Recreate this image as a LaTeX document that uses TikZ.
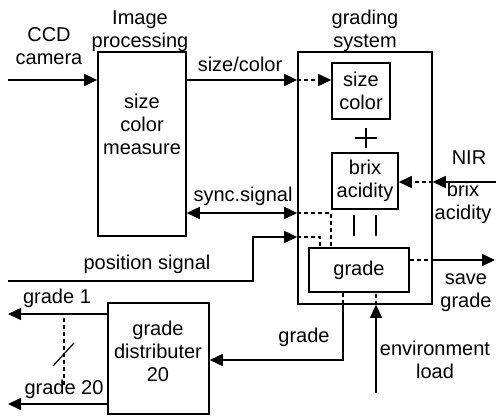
\documentclass[tikz,border=0pt]{standalone}
\usepackage{fontspec}
\setmainfont{Liberation Sans}
\usetikzlibrary{arrows.meta}
\begin{document}
\begin{tikzpicture}[x=1pt,y=-1pt,line width=1.6pt,font=\fontsize{20}{23}\selectfont]
      \tikzset{box/.style={draw, minimum width=#1, inner sep=0pt, align=center},
               txt/.style={inner sep=0pt, align=center},
               arr/.style={-{Triangle[length=13pt,width=12pt]}},
               biarr/.style={{Triangle[length=13pt,width=12pt]}-{Triangle[length=13pt,width=12pt]}},
               dashline/.style={dash pattern=on 4pt off 3pt},
               darr/.style={dashline, -{Triangle[length=13pt,width=12pt]}}}
      \useasboundingbox (0,0) rectangle (496,416);
      \node[box=88pt, minimum height=184pt] (imgbox) at (142,144) {};
      \node[txt] (imgtext) at (142,124) {size\\color\\measure};
      \node[box=134pt, minimum height=252pt] (gradsys) at (365,178) {};
      \node[box=58pt, minimum height=56pt] (sizebox) at (361,91) {size\\color};
      \node[box=66pt, minimum height=56pt] (brixbox) at (365,181) {brix\\acidity};
      \node[box=100pt, minimum height=44pt] (gradebox) at (359,270) {grade};
      \node[box=101pt, minimum height=111pt] (distbox) at (158.5,358.5) {};
      \node[txt] (disttext) at (158,351) {grade\\distributer\\20};
      \node[txt] (ccdlbl) at (49,46) {CCD\\camera};
      \node[txt] (imglbl) at (140,31) {Image\\processing};
      \node[txt] (gradlbl) at (365,31) {grading\\system};
      \node[txt] (sclbl) at (240,64) {size/color};
      \node[txt] (synclbl) at (243,196) {sync.signal};
      \node[txt] (poslbl) at (147,264) {position signal};
      \node[txt] (nirlbl) at (469,158) {NIR};
      \node[txt] (nirval) at (463,203) {brix\\acidity};
      \node[txt] (savelbl) at (466,293) {save\\grade};
      \node[txt] (outlbl) at (304,337) {grade};
      \node[txt] (envlbl) at (435,360) {environment\\load};
      \node[txt] (g1lbl) at (57,298) {grade 1};
      \node[txt] (g20lbl) at (64,389) {grade 20};
      \coordinate (ccdin) at (8,80);
      \coordinate (posin) at (8,281);
      \coordinate (posbend) at (253,237);
      \coordinate (nirin) at (496,182);
      \coordinate (saveout) at (495,260);
      \coordinate (envin) at (376,393);
      \coordinate (g1out) at (8,314);
      \coordinate (g20out) at (8,404);
      \coordinate (plus) at (366,138);
      \draw[arr] (ccdin) -- (ccdin -| imgbox.west);
      \draw[arr] (imgbox.east |- 0,80) -- (gradsys.west |- 0,80);
      \draw[darr] (gradsys.west |- 0,80) -- (sizebox.west |- 0,80);
      \draw[biarr] (imgbox.east |- 0,213) -- (gradsys.west |- 0,213);
      \draw[dashline] (gradsys.west |- 0,213) -| (gradebox.north -| sizebox.west);
      \draw[arr] (posin) -| (posbend) -- (gradsys.west |- posbend);
      \draw[dashline] (gradsys.west |- posbend) -| (gradebox.north -| 320,0);
      \draw[arr] (nirin) -- (nirin -| gradsys.east);
      \draw[darr] (nirin -| gradsys.east) -- (nirin -| brixbox.east);
      \draw[dashline] (gradebox.east |- saveout) -- (gradsys.east |- saveout);
      \draw[arr] (gradsys.east |- saveout) -- (saveout);
      \draw[dashline] (gradebox.south -| 343,0) -- (gradsys.south -| 343,0);
      \draw[arr] (gradsys.south -| 343,0) |- (distbox.east |- 0,360);
      \draw[arr] (envin) -- (envin |- gradsys.south);
      \draw[dashline] (envin |- gradsys.south) -- (envin |- gradebox.south);
      \draw[arr] (distbox.west |- g1out) -- (g1out);
      \draw[arr] (distbox.west |- g20out) -- (g20out);
      \draw[dashline, line width=1.2pt] (64,318) -- (64,387);
      \draw[line width=1.2pt] (53,366) -- (74,343);
      \draw[line width=1.2pt] ([xshift=-11pt]plus) -- ([xshift=11pt]plus);
      \draw[line width=1.2pt] ([yshift=-10pt]plus) -- ([yshift=10pt]plus);
      \draw (354,215) -- (354,236);
      \draw (376,215) -- (376,236);
    \end{tikzpicture}
\end{document}
